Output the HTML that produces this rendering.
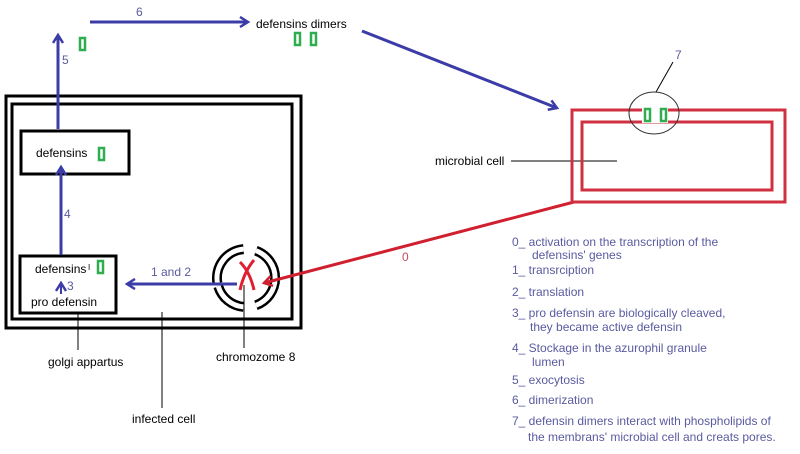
<!DOCTYPE html>
<html><head><meta charset="utf-8"><style>
body{margin:0;background:#fff;}
svg{display:block;font-family:"Liberation Sans",sans-serif;}
</style></head><body>
<svg width="800" height="454" viewBox="0 0 800 454">
<defs>
<marker id="ab" markerWidth="12" markerHeight="12" refX="9" refY="6" orient="auto" markerUnits="userSpaceOnUse"><path d="M1,1 L9,6 L1,11" fill="none" stroke="#3c3ca8" stroke-width="2.5"/></marker>
<marker id="ar" markerWidth="12" markerHeight="12" refX="9" refY="6" orient="auto" markerUnits="userSpaceOnUse"><path d="M1,1 L9,6 L1,11" fill="none" stroke="#d02030" stroke-width="2.5"/></marker>
</defs>
<rect x="6" y="96" width="295" height="232" fill="none" stroke="#000" stroke-width="3"/>
<rect x="12" y="104" width="280" height="215" fill="none" stroke="#000" stroke-width="3"/>
<rect x="21" y="131" width="108" height="43" fill="none" stroke="#000" stroke-width="3"/>
<rect x="20" y="256" width="96" height="57" fill="none" stroke="#000" stroke-width="3"/>
<text x="36" y="157" font-size="12">defensins</text>
<text x="35" y="273" font-size="12">defensins</text><text x="88" y="270" font-size="8">I</text>
<text x="31" y="306" font-size="12">pro defensin</text>
<path d="M61,294 V283" stroke="#3c3ca8" stroke-width="2" marker-end="url(#ab)"/>
<text x="67" y="290" font-size="12" fill="#5a5aa0">3</text>
<g fill="#fff" stroke="#2fae50" stroke-width="2.5">
<rect x="80" y="38" width="5" height="12"/><rect x="99" y="148" width="5" height="12"/><rect x="98" y="261" width="5" height="12"/>
<rect x="295" y="33" width="5" height="12"/><rect x="311" y="33" width="5" height="12"/>
</g>
<g stroke="#3c3ca8" stroke-width="3" fill="none">
<path d="M58,129 V35" marker-end="url(#ab)"/>
<path d="M61,255 V167" marker-end="url(#ab)"/>
<path d="M90,22 H248" marker-end="url(#ab)"/>
<path d="M362,31 L557,108" marker-end="url(#ab)"/>
</g>
<text x="136" y="16" font-size="12" fill="#5a5aa0">6</text>
<text x="62" y="64" font-size="12" fill="#5a5aa0">5</text>
<text x="64" y="218" font-size="12" fill="#5a5aa0">4</text>
<text x="151" y="276" font-size="12" fill="#5a5aa0">1 and 2</text>
<text x="256" y="28" font-size="12">defensins dimers</text>
<g fill="none">
<path d="M243.5,249.1 A29,29 0 0 0 217.4,283" stroke="#000" stroke-width="10"/>
<path d="M243.5,249.1 A29,29 0 0 0 217.4,283" stroke="#fff" stroke-width="5"/>
<path d="M218.3,286.5 A29,29 0 0 0 243.5,306.9" stroke="#000" stroke-width="10"/>
<path d="M218.3,286.5 A29,29 0 0 0 243.5,306.9" stroke="#fff" stroke-width="5"/>
<path d="M255.9,250.7 A29,29 0 0 1 255.9,305.3" stroke="#000" stroke-width="10"/>
<path d="M255.9,250.7 A29,29 0 0 1 255.9,305.3" stroke="#fff" stroke-width="5"/>
</g>
<path d="M237,284 H127" stroke="#3c3ca8" stroke-width="3" fill="none" marker-end="url(#ab)"/>
<path d="M240,262 Q250,272 254,290 M254,260 Q244,272 240,290" stroke="#e02030" stroke-width="3" fill="none"/>
<path d="M574,202 L264,283" stroke="#d02030" stroke-width="3" fill="none" marker-end="url(#ar)"/>
<text x="402" y="261" font-size="12" fill="#c05060">0</text>
<g stroke="#000" stroke-width="1">
<line x1="78" y1="314" x2="78" y2="350"/>
<line x1="162" y1="312" x2="162" y2="408"/>
<line x1="244" y1="285" x2="244" y2="348"/>
<line x1="511" y1="161" x2="617" y2="161"/>
<line x1="673" y1="62" x2="656" y2="92"/>
</g>
<text x="48" y="366" font-size="12">golgi appartus</text>
<text x="216" y="361" font-size="12">chromozome 8</text>
<text x="132" y="423" font-size="12">infected cell</text>
<text x="435" y="165" font-size="12">microbial cell</text>
<rect x="572" y="110" width="213" height="92" fill="none" stroke="#d03040" stroke-width="3"/>
<rect x="582" y="122" width="190" height="68" fill="none" stroke="#d03040" stroke-width="3"/>
<rect x="642" y="108" width="26" height="15" fill="#fff"/>
<g fill="#fff" stroke="#2fae50" stroke-width="2.5"><rect x="645" y="109" width="5" height="12"/><rect x="661" y="109" width="5" height="12"/></g>
<ellipse cx="654" cy="113" rx="25" ry="21" fill="none" stroke="#333" stroke-width="1"/>
<text x="675" y="59" font-size="12" fill="#5a5aa0">7</text>
<g font-size="12" fill="#5a5aa0">
<text x="512" y="246">0_ activation on the transcription of the</text>
<text x="532" y="259">defensins' genes</text>
<text x="512" y="274">1_ transrciption</text>
<text x="512" y="296">2_ translation</text>
<text x="512" y="317">3_ pro defensin are biologically cleaved,</text>
<text x="530" y="331">they became active defensin</text>
<text x="512" y="352">4_ Stockage in the azurophil granule</text>
<text x="532" y="366">lumen</text>
<text x="512" y="384">5_ exocytosis</text>
<text x="512" y="404">6_ dimerization</text>
<text x="512" y="425">7_ defensin dimers interact with phospholipids of</text>
<text x="528" y="441">the membrans' microbial cell and creats pores.</text>
</g>
</svg>
</body></html>
